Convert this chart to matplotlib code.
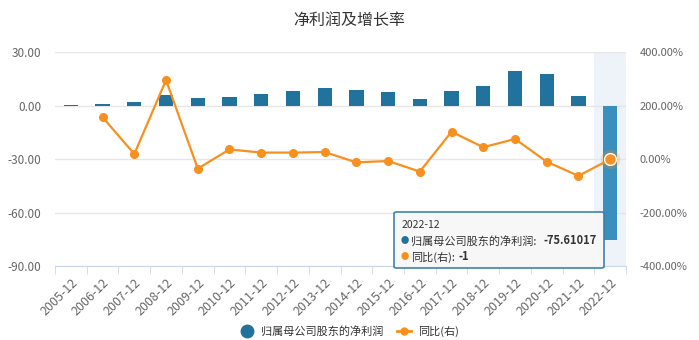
import matplotlib.pyplot as plt
from matplotlib.lines import Line2D
from matplotlib.patches import FancyBboxPatch

plt.rcParams['font.family'] = ['Noto Sans CJK SC', 'DejaVu Sans']

years = ['2005-12', '2006-12', '2007-12', '2008-12', '2009-12', '2010-12',
         '2011-12', '2012-12', '2013-12', '2014-12', '2015-12', '2016-12',
         '2017-12', '2018-12', '2019-12', '2020-12', '2021-12', '2022-12']
net_profit = [0.5, 1.0, 1.7, 6.0, 4.1, 5.0, 6.5, 8.2, 10.1, 8.6, 7.7, 3.5,
              8.0, 11.0, 19.6, 17.8, 5.6, -75.61017]
# growth rate in %, first year has no value
growth = [None, 156, 19, 295, -36, 36, 24, 24, 26, -12.5, -7.5, -47,
          102, 44, 75, -10, -63, -1]

left_ticks = [-90, -60, -30, 0, 30]
right_ticks = [-400, -200, 0, 200, 400]

bar_color = '#21729d'
hl_color = '#3a8fbe'
line_color = '#f7901e'
grid_color = '#e6e6e6'
txt_color = '#666666'

fig = plt.figure(figsize=(6.99, 3.40), dpi=100)
ax = fig.add_axes([0.0787, 0.2176, 0.8169, 0.6294])
ax2 = ax.twinx()

x = list(range(len(years)))
n = len(years)

# hovered column background
ax.axvspan(n - 1.5, n - 0.5, color='#eef2f9', zorder=0, lw=0)

colors = [bar_color] * (n - 1) + [hl_color]
ax.bar(x, net_profit, width=0.45, color=colors, zorder=2)

gx = [i for i, g in zip(x, growth) if g is not None]
gy = [g for g in growth if g is not None]
ax2.plot(gx, gy, color=line_color, lw=1.6, marker='o', markersize=5.5, zorder=3)
# hovered point
ax2.plot(gx[-1], gy[-1], marker='o', markersize=14, color=line_color, alpha=0.25,
         markeredgewidth=0, zorder=3)
ax2.plot(gx[-1], gy[-1], marker='o', markersize=8.5, color=line_color,
         markeredgecolor='white', markeredgewidth=1.0, zorder=4)

ax.set_xlim(-0.5, n - 0.5)
ax.set_ylim(-90, 30)
ax2.set_ylim(-400, 400)
ax.set_yticks(left_ticks)
ax.set_yticklabels([f'{v:.2f}' for v in left_ticks])
ax2.set_yticks(right_ticks)
ax2.set_yticklabels([f'{v:.2f}%' for v in right_ticks])

ax.grid(axis='y', color=grid_color, lw=1, zorder=1)
ax.set_axisbelow(True)
ax.set_zorder(ax2.get_zorder() - 1)
ax2.patch.set_visible(False)
ax.patch.set_visible(False)

for a in (ax, ax2):
    for s in ['top', 'left', 'right', 'bottom']:
        a.spines[s].set_visible(False)
ax.spines['bottom'].set_visible(True)
ax.spines['bottom'].set_color('#ccd6eb')
ax.tick_params(axis='y', length=0, labelsize=8.5, labelcolor=txt_color, pad=10)
ax2.tick_params(axis='y', length=0, labelsize=8, labelcolor=txt_color, pad=10)

ax.set_xticks(x)
ax.set_xticklabels(years, rotation=45, ha='right', rotation_mode='anchor',
                   fontsize=9, color=txt_color)
ax.set_xticks([i - 0.5 for i in range(n + 1)], minor=True)
ax.tick_params(axis='x', which='major', length=0, pad=7)
ax.tick_params(axis='x', which='minor', length=6, color='#ccd6eb', direction='out')

fig.text(0.5, 0.939, '净利润及增长率', ha='center', va='center', fontsize=11.5, color='#333333')

handles = [Line2D([], [], ls='none', marker='o', markersize=9, color=bar_color),
           Line2D([], [], color=line_color, lw=2, marker='o', markersize=5)]
fig.legend(handles, ['归属母公司股东的净利润', '同比(右)'], loc='center',
           bbox_to_anchor=(0.5, 0.025), ncol=2, frameon=False, fontsize=8,
           handlelength=1.3, handletextpad=0.6, columnspacing=1.2,
           labelcolor='#333333')

# tooltip
W, H = 699, 340
box = FancyBboxPatch((394 / W, 1 - 268 / H), 210 / W, 56 / H,
                     boxstyle='round,pad=0,rounding_size=0.004',
                     transform=fig.transFigure, facecolor='#f7f7f7',
                     edgecolor='#3a7ca5', lw=1.2, alpha=0.95, zorder=10)
fig.add_artist(box)
fig.text(402 / W, 1 - 225 / H, years[-1], fontsize=7.5, color='#333333', va='center', zorder=11)
fig.text(401 / W, 1 - 241 / H, '●', fontsize=6, color=bar_color, va='center', zorder=11)
fig.text(411 / W, 1 - 241 / H, '归属母公司股东的净利润:', fontsize=8, color='#333333',
         va='center', zorder=11)
fig.text(597 / W, 1 - 241 / H, f'{net_profit[-1]}', fontsize=8, color='#333333',
         va='center', ha='right', weight='bold', zorder=11)
fig.text(401 / W, 1 - 257 / H, '●', fontsize=6, color=line_color, va='center', zorder=11)
fig.text(411 / W, 1 - 257 / H, '同比(右):', fontsize=8, color='#333333',
         va='center', zorder=11)
fig.text(459 / W, 1 - 257 / H, f'{gy[-1]}', fontsize=8, color='#333333',
         va='center', weight='bold', zorder=11)

fig.savefig('out.png', dpi=100, facecolor='white')
